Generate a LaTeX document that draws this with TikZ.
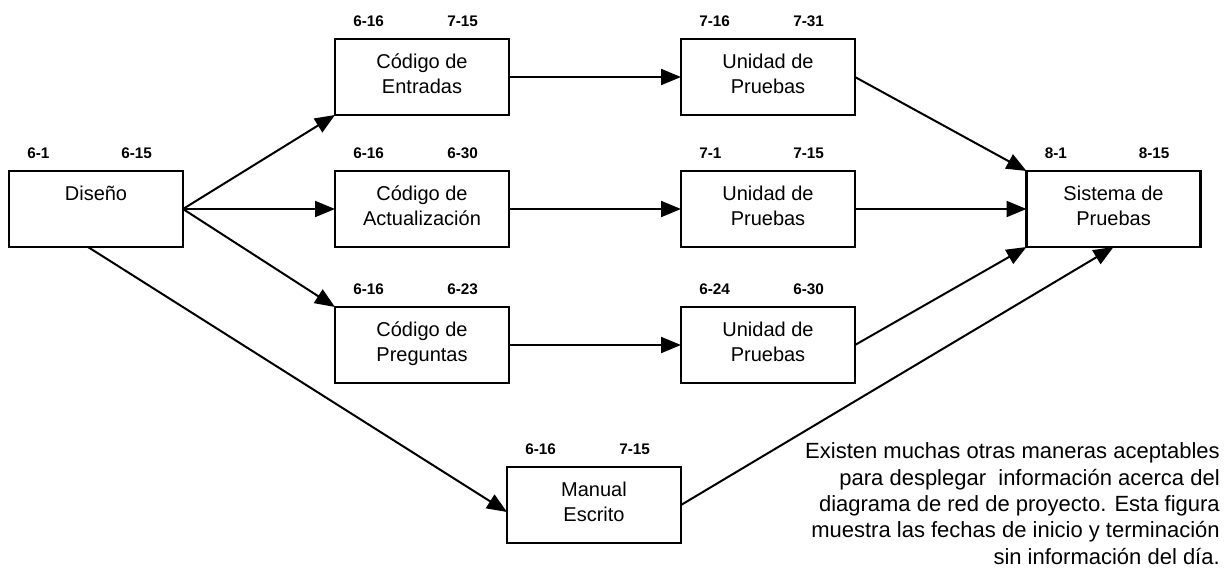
\documentclass[tikz,border=0pt]{standalone}
\usepackage{fontspec}
\setmainfont{Liberation Sans}
\usetikzlibrary{arrows.meta,calc}
\begin{document}
\begin{tikzpicture}[x=0.75pt,y=-0.75pt,
  box/.style={draw, line width=1.7pt, minimum width=130.5pt, minimum height=57pt, inner sep=0pt, outer sep=0pt},
  boxtext/.style={anchor=north, inner sep=0pt, align=center, font=\fontsize{15}{18.5}\selectfont},
  datelbl/.style={anchor=base west, inner sep=0pt, font=\bfseries\fontsize{11.5}{13}\selectfont},
  link/.style={line width=1.5pt, -{Triangle[length=15pt,width=12pt]}},
]
\useasboundingbox (0,0) rectangle (1230,569);

% activity boxes
\node[box] (dis) at (96,209) {};
\node[box] (ent) at (422,77) {};
\node[box] (act) at (422,209) {};
\node[box] (pre) at (422,345) {};
\node[box] (ua)  at (768,77) {};
\node[box] (ub)  at (768,209) {};
\node[box] (uc)  at (768,345) {};
\node[box] (sis) at (1113.5,209) {};
\node[box] (man) at (594,505) {};

% activity names
\node[boxtext] (tdis) at ($(dis.north)+(0,12)$) {\strut Diseño};
\node[boxtext] (tent) at ($(ent.north)+(0,12)$) {\strut Código de\\Entradas};
\node[boxtext] (tact) at ($(act.north)+(0,12)$) {\strut Código de\\Actualización};
\node[boxtext] (tpre) at ($(pre.north)+(0,12)$) {\strut Código de\\Preguntas};
\node[boxtext] (tua)  at ($(ua.north)+(0,12)$)  {\strut Unidad de\\Pruebas};
\node[boxtext] (tub)  at ($(ub.north)+(0,12)$)  {\strut Unidad de\\Pruebas};
\node[boxtext] (tuc)  at ($(uc.north)+(0,12)$)  {\strut Unidad de\\Pruebas};
\node[boxtext] (tsis) at ($(sis.north)+(0,12)$) {\strut Sistema de\\Pruebas};
\node[boxtext] (tman) at ($(man.north)+(0,12)$) {\strut Manual\\Escrito};

% start and finish dates
\node[datelbl] (sdis) at ($(dis.north west)+(18,-13)$) {6-1};
\node[datelbl] (fdis) at ($(dis.north west)+(112,-13)$) {6-15};
\node[datelbl] (sent) at ($(ent.north west)+(18,-13)$) {6-16};
\node[datelbl] (fent) at ($(ent.north west)+(112,-13)$) {7-15};
\node[datelbl] (sact) at ($(act.north west)+(18,-13)$) {6-16};
\node[datelbl] (fact) at ($(act.north west)+(112,-13)$) {6-30};
\node[datelbl] (spre) at ($(pre.north west)+(18,-13)$) {6-16};
\node[datelbl] (fpre) at ($(pre.north west)+(112,-13)$) {6-23};
\node[datelbl] (sua)  at ($(ua.north west)+(18,-13)$)  {7-16};
\node[datelbl] (fua)  at ($(ua.north west)+(112,-13)$) {7-31};
\node[datelbl] (sub)  at ($(ub.north west)+(18,-13)$)  {7-1};
\node[datelbl] (fub)  at ($(ub.north west)+(112,-13)$) {7-15};
\node[datelbl] (suc)  at ($(uc.north west)+(18,-13)$)  {6-24};
\node[datelbl] (fuc)  at ($(uc.north west)+(112,-13)$) {6-30};
\node[datelbl] (ssis) at ($(sis.north west)+(18,-13)$) {8-1};
\node[datelbl] (fsis) at ($(sis.north west)+(112,-13)$) {8-15};
\node[datelbl] (sman) at ($(man.north west)+(18,-13)$) {6-16};
\node[datelbl] (fman) at ($(man.north west)+(112,-13)$) {7-15};

% dependencies
\draw[link] (dis.east) -- (ent.south west);
\draw[link] (dis.east) -- (act.west);
\draw[link] (dis.east) -- (pre.north west);
\draw[link] ($(dis.south)+(-8,0)$) -- ($(man.west)+(0,7)$);
\draw[link] (ent.east) -- (ua.west);
\draw[link] (act.east) -- (ub.west);
\draw[link] (pre.east) -- (uc.west);
\draw[link] (ua.east) -- (sis.north west);
\draw[link] (ub.east) -- (sis.west);
\draw[link] (uc.east) -- (sis.south west);
\draw[link] (man.east) -- (sis.south);

% note
\node[anchor=north east, inner sep=0pt, align=right, font=\fontsize{16.5}{19.8}\selectfont] (note) at (1220,440)
  {\strut Existen muchas otras maneras aceptables\\
   para desplegar\ \ información acerca del\\
   diagrama de red de proyecto. Esta figura\\
   muestra las fechas de inicio y terminación\\
   sin información del día.};
\end{tikzpicture}
\end{document}
